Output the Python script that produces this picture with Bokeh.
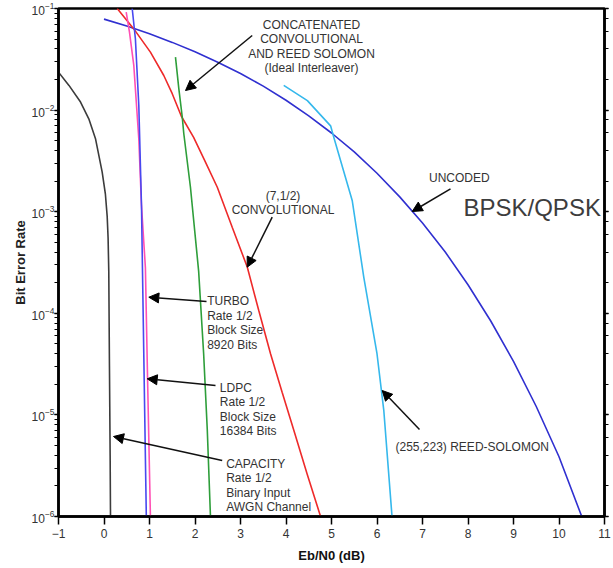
import numpy as np
from bokeh.plotting import figure
from bokeh.models import Label, Arrow, NormalHead, LogAxis
from bokeh.embed import file_html
from bokeh.resources import INLINE

# ---------------- data ----------------
uncoded_x = [0.0, 0.5, 1.0, 1.5, 2.0, 2.5, 3.0, 3.5, 4.0, 4.5, 5.0, 5.5, 6.0, 6.5, 7.0, 7.5, 8.0, 8.5, 9.0, 9.5, 10.0, 10.5]
uncoded_y = [0.0786, 0.0671, 0.0563, 0.0464, 0.0375, 0.0296, 0.0229, 0.0172, 0.0125, 0.00878, 0.00595,
             0.00388, 0.00239, 0.00140, 0.000773, 0.000401, 0.000191, 8.4e-5, 3.36e-5, 1.21e-5, 3.87e-6, 1.0e-6]

capacity_x = [-1.0, -0.77, -0.516, -0.334, -0.187, -0.04, 0.03, 0.07, 0.09, 0.105, 0.12, 0.135, 0.143]
capacity_y = [0.0236, 0.0175, 0.012, 0.0082, 0.00523, 0.00245, 1.5e-3, 9.0e-4, 5.5e-4, 2.6e-4, 3.0e-5, 4.0e-6, 1.0e-6]

turbo_x = [0.62, 0.69, 0.765, 0.824, 0.845, 0.89, 0.93]
turbo_y = [0.1, 0.0504, 0.0111, 1.15e-3, 2.8e-4, 1.4e-5, 1.0e-6]

ldpc_x = [0.488, 0.56, 0.655, 0.765, 0.824, 0.91, 0.96, 1.02]
ldpc_y = [0.092, 0.0585, 0.0275, 5.2e-3, 1.15e-3, 2.8e-4, 2.0e-5, 1.0e-6]

conv_x = [0.29, 0.655, 1.02, 1.314, 1.50, 1.70, 1.97, 2.23, 2.49, 2.82, 3.15, 3.40, 3.66, 3.915, 4.17, 4.466, 4.76]
conv_y = [0.1, 0.063, 0.0372, 0.0219, 0.0145, 8.7e-3, 5.4e-3, 3.07e-3, 1.74e-3, 7.0e-4, 2.84e-4, 1.07e-4,
          4.0e-5, 1.67e-5, 7.1e-6, 2.6e-6, 1.0e-6]

concat_x = [1.571, 1.645, 1.718, 1.754, 1.90, 2.08, 2.19, 2.27, 2.34]
concat_y = [0.0332, 0.0162, 8.7e-3, 5.85e-3, 1.74e-3, 2.6e-4, 4.0e-5, 7.1e-6, 1.0e-6]

rs_x = [3.95, 4.47, 4.98, 5.05, 5.455, 5.71, 6.00, 6.15, 6.33]
rs_y = [0.0175, 0.0124, 7.0e-3, 5.4e-3, 1.29e-3, 2.26e-4, 4.0e-5, 1.1e-5, 1.0e-6]

x_ticks = list(range(-1, 12))

FONT = "Liberation Sans"
TXT = "#333333"

p = figure(frame_width=546, frame_height=508, x_range=(-1, 11), y_range=(1e-6, 1e-1),
           y_axis_type="log", output_backend="svg", toolbar_location=None,
           min_border_left=58, min_border_right=9, min_border_top=8, min_border_bottom=52)
p.background_fill_color = "white"
p.border_fill_color = "white"
p.xgrid.visible = False
p.ygrid.visible = False
p.outline_line_color = "black"
p.outline_line_width = 2.5
p.outline_line_alpha = 1.0

# x axis
xa = p.xaxis[0]
xa.ticker = x_ticks
xa.axis_line_width = 2.5
xa.major_tick_out = 8
xa.major_tick_in = 0
xa.minor_tick_out = 0
xa.minor_tick_in = 0
xa.major_tick_line_width = 1.5
xa.major_label_standoff = 4
xa.major_label_text_font = FONT
xa.major_label_text_font_size = "12px"
xa.major_label_text_color = TXT
xa.axis_label = "Eb/N0 (dB)"
xa.axis_label_text_font = FONT
xa.axis_label_text_font_style = "bold"
xa.axis_label_text_font_size = "13px"
xa.axis_label_text_color = "#111111"
xa.axis_label_standoff = 7

# y axis
ya = p.yaxis[0]
ya.axis_line_width = 2.5
ya.major_tick_out = 4
ya.major_tick_in = 0
ya.minor_tick_out = 4
ya.minor_tick_in = 0
ya.major_tick_line_width = 1.5
ya.minor_tick_line_width = 1.2
ya.major_label_standoff = 0
ya.major_label_text_font = FONT
ya.major_label_text_font_size = "12px"
ya.major_label_text_color = TXT
ya.axis_label = "Bit Error Rate"
ya.axis_label_text_font = FONT
ya.axis_label_text_font_style = "bold"
ya.axis_label_text_font_size = "13px"
ya.axis_label_text_color = "#222222"
ya.axis_label_standoff = 1

ra = LogAxis(axis_line_width=2.5, major_tick_out=4, major_tick_in=0, minor_tick_out=4, minor_tick_in=0,
             major_tick_line_width=1.5, minor_tick_line_width=1.2,
             major_label_text_font_size="1px", major_label_text_alpha=0.0, major_label_standoff=0)
p.add_layout(ra, "right")

# curves
LW = 1.6
p.line(capacity_x, capacity_y, line_color="#3c3c3c", line_width=LW)
p.line(uncoded_x, uncoded_y, line_color="#3030d0", line_width=LW)
p.line(conv_x, conv_y, line_color="#ee2a2a", line_width=LW)
p.line(concat_x, concat_y, line_color="#2e9e3a", line_width=LW)
p.line(rs_x, rs_y, line_color="#35b8ec", line_width=LW)
p.line(ldpc_x, ldpc_y, line_color="#ff4fb4", line_width=LW)
p.line(turbo_x, turbo_y, line_color="#4848f0", line_width=LW)

# reference-pixel -> data helper for annotation placement
def d(px, py):
    return -1 + (px - 58) / 45.5, 10 ** (-1 - (py - 8) / 101.6)

def lab(px, py, text, align="left", size="12px", color=TXT):
    x, y = d(px, py)
    p.add_layout(Label(x=x, y=y, text=text, text_align=align, text_baseline="middle",
                       text_font=FONT, text_font_size=size, text_color=color))

for t, yy in [("CONCATENATED", 24.5), ("CONVOLUTIONAL", 38.8), ("AND REED SOLOMON", 53.2), ("(Ideal Interleaver)", 67.8)]:
    lab(311, yy, t, "center")
for t, yy in [("(7,1/2)", 195.5), ("CONVOLUTIONAL", 209)]:
    lab(282.5, yy, t, "center")
lab(458.8, 177.2, "UNCODED", "center")
lab(531.7, 206.7, "BPSK/QPSK", "center", size="24px", color="#3d3d3d")
for t, yy in [("TURBO", 300.8), ("Rate 1/2", 315.2), ("Block Size", 329.6), ("8920 Bits", 344)]:
    lab(206.7, yy, t)
for t, yy in [("LDPC", 387.5), ("Rate 1/2", 401.9), ("Block Size", 416.3), ("16384 Bits", 430.7)]:
    lab(219.3, yy, t)
for t, yy in [("CAPACITY", 463.3), ("Rate 1/2", 477.7), ("Binary Input", 492.1), ("AWGN Channel", 506.5)]:
    lab(225.7, yy, t)
lab(395, 446.7, "(255,223) REED-SOLOMON")

arrows = [((251.7, 35), (185, 90)), ((271.7, 216.7), (246.7, 266.7)), ((450, 188.3), (411.7, 211)),
          ((419, 429), (381.7, 390)), ((206, 301), (148.3, 296.7)), ((215, 385), (146.7, 378.3)),
          ((221.7, 460), (113, 436))]
for (a, b) in arrows:
    x0, y0 = d(*a)
    x1, y1 = d(*b)
    p.add_layout(Arrow(end=NormalHead(size=10, fill_color="black", line_color="black"),
                       x_start=x0, y_start=y0, x_end=x1, y_end=y1, line_width=1.5, line_color="#111111"))

open("out.html", "w").write(file_html(p, INLINE))
